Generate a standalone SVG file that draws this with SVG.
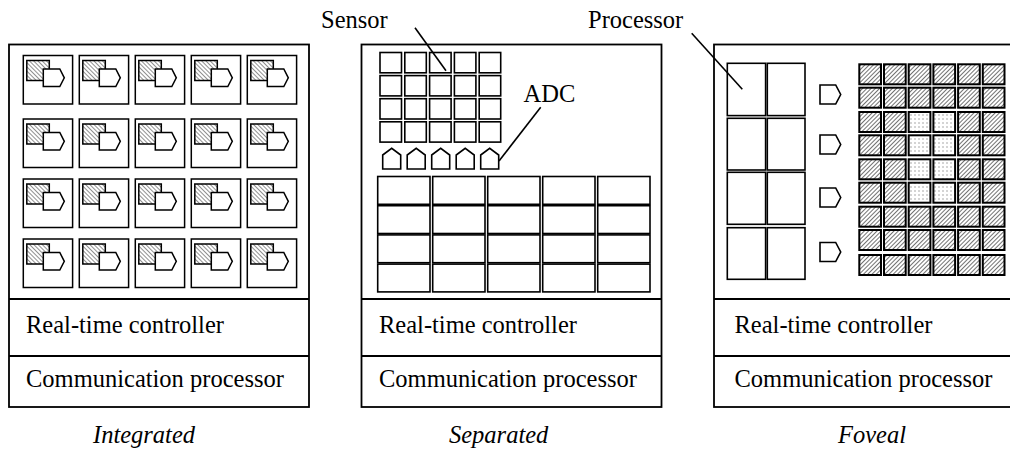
<svg xmlns="http://www.w3.org/2000/svg" width="1010" height="451" viewBox="0 0 1010 451" font-family="Liberation Serif, Times New Roman, serif" font-size="24.5">
<defs>
<pattern id="hatchA" patternUnits="userSpaceOnUse" width="3" height="3" patternTransform="rotate(-45)">
<rect width="3" height="3" fill="#fff"/>
<line x1="0" y1="0" x2="0" y2="3" stroke="#555" stroke-width="1.3"/>
</pattern>
<pattern id="hatchB" patternUnits="userSpaceOnUse" width="3" height="3" patternTransform="rotate(45)">
<rect width="3" height="3" fill="#fff"/>
<line x1="0" y1="0" x2="0" y2="3" stroke="#444" stroke-width="1.5"/>
</pattern>
<pattern id="dots" patternUnits="userSpaceOnUse" x="1" y="1" width="4" height="4">
<rect width="4" height="4" fill="#fff"/>
<rect x="1.5" y="1.5" width="1" height="1" fill="#555"/>
</pattern>
<g id="icell" fill="#fff" stroke="#000" stroke-width="1.5">
<rect x="0" y="0" width="49.3" height="48.5"/>
<rect x="3.5" y="5" width="22.5" height="20" fill="url(#hatchA)"/>
<path d="M20,13.5 H36.5 L41,22.3 L36.5,31 H20 Z"/>
</g>
<path id="adc" d="M-9,169 V155 L0,148.3 L9,155 V169 Z"/>
<path id="rpent" d="M0,0 H15.7 L20.7,9.5 L15.7,19 H0 Z"/>
</defs>
<style>
.frame{fill:none;stroke:#000;stroke-width:1.8}
.s{fill:#fff;stroke:#000;stroke-width:1.6}
.h{fill:url(#hatchB);stroke:#000;stroke-width:2}
.d{fill:url(#dots);stroke:#000;stroke-width:2}
.div{stroke:#000;stroke-width:1.8}
text{fill:#000}
.it{font-style:italic}
.lead{stroke:#000;stroke-width:1.6;fill:none}
</style>

<g id="integrated">
<rect class="frame" x="9" y="44.5" width="300" height="362.5"/>
<line class="div" x1="9" y1="299" x2="309" y2="299"/>
<line class="div" x1="9" y1="356" x2="309" y2="356"/>
<g id="cells1">
<use href="#icell" x="23.3" y="55.5"/><use href="#icell" x="79.3" y="55.5"/><use href="#icell" x="135.3" y="55.5"/><use href="#icell" x="191.3" y="55.5"/><use href="#icell" x="247.3" y="55.5"/>
<use href="#icell" x="23.3" y="119"/><use href="#icell" x="79.3" y="119"/><use href="#icell" x="135.3" y="119"/><use href="#icell" x="191.3" y="119"/><use href="#icell" x="247.3" y="119"/>
<use href="#icell" x="23.3" y="179"/><use href="#icell" x="79.3" y="179"/><use href="#icell" x="135.3" y="179"/><use href="#icell" x="191.3" y="179"/><use href="#icell" x="247.3" y="179"/>
<use href="#icell" x="23.3" y="239"/><use href="#icell" x="79.3" y="239"/><use href="#icell" x="135.3" y="239"/><use href="#icell" x="191.3" y="239"/><use href="#icell" x="247.3" y="239"/>
</g>
<text x="26" y="333">Real-time controller</text>
<text x="26" y="387">Communication processor</text>
<text class="it" x="93" y="443">Integrated</text>
</g>

<g id="separated">
<rect class="frame" x="361.5" y="44.5" width="300" height="362.5"/>
<line class="div" x1="361.5" y1="299" x2="661.5" y2="299"/>
<line class="div" x1="361.5" y1="356" x2="661.5" y2="356"/>
<g id="sensors" class="s">
<rect x="380" y="52.5" width="21.5" height="20.3"/><rect x="404.8" y="52.5" width="21.5" height="20.3"/><rect x="429.6" y="52.5" width="21.5" height="20.3"/><rect x="454.4" y="52.5" width="21.5" height="20.3"/><rect x="479.2" y="52.5" width="21.5" height="20.3"/>
<rect x="380" y="75.6" width="21.5" height="20.3"/><rect x="404.8" y="75.6" width="21.5" height="20.3"/><rect x="429.6" y="75.6" width="21.5" height="20.3"/><rect x="454.4" y="75.6" width="21.5" height="20.3"/><rect x="479.2" y="75.6" width="21.5" height="20.3"/>
<rect x="380" y="98.7" width="21.5" height="20.3"/><rect x="404.8" y="98.7" width="21.5" height="20.3"/><rect x="429.6" y="98.7" width="21.5" height="20.3"/><rect x="454.4" y="98.7" width="21.5" height="20.3"/><rect x="479.2" y="98.7" width="21.5" height="20.3"/>
<rect x="380" y="121.8" width="21.5" height="20.3"/><rect x="404.8" y="121.8" width="21.5" height="20.3"/><rect x="429.6" y="121.8" width="21.5" height="20.3"/><rect x="454.4" y="121.8" width="21.5" height="20.3"/><rect x="479.2" y="121.8" width="21.5" height="20.3"/>
</g>
<g id="adcs" class="s">
<use href="#adc" x="391.7"/><use href="#adc" x="416.2"/><use href="#adc" x="440.7"/><use href="#adc" x="465.2"/><use href="#adc" x="489.7"/>
</g>
<g id="processors2" class="s">
<rect x="377.7" y="176.5" width="52.3" height="27.8"/><rect x="432.7" y="176.5" width="52.3" height="27.8"/><rect x="487.7" y="176.5" width="52.3" height="27.8"/><rect x="542.7" y="176.5" width="52.3" height="27.8"/><rect x="597.7" y="176.5" width="52.3" height="27.8"/>
<rect x="377.7" y="205.7" width="52.3" height="27.8"/><rect x="432.7" y="205.7" width="52.3" height="27.8"/><rect x="487.7" y="205.7" width="52.3" height="27.8"/><rect x="542.7" y="205.7" width="52.3" height="27.8"/><rect x="597.7" y="205.7" width="52.3" height="27.8"/>
<rect x="377.7" y="234.9" width="52.3" height="27.8"/><rect x="432.7" y="234.9" width="52.3" height="27.8"/><rect x="487.7" y="234.9" width="52.3" height="27.8"/><rect x="542.7" y="234.9" width="52.3" height="27.8"/><rect x="597.7" y="234.9" width="52.3" height="27.8"/>
<rect x="377.7" y="264.1" width="52.3" height="27.8"/><rect x="432.7" y="264.1" width="52.3" height="27.8"/><rect x="487.7" y="264.1" width="52.3" height="27.8"/><rect x="542.7" y="264.1" width="52.3" height="27.8"/><rect x="597.7" y="264.1" width="52.3" height="27.8"/>
</g>
<text x="379" y="333">Real-time controller</text>
<text x="379" y="387">Communication processor</text>
<text class="it" x="449" y="443">Separated</text>
</g>

<g id="foveal">
<rect class="frame" x="714" y="44.5" width="302" height="362.5"/>
<line class="div" x1="714" y1="299" x2="1010" y2="299"/>
<line class="div" x1="714" y1="356" x2="1010" y2="356"/>
<g id="processors3" class="s">
<rect x="727.3" y="63.3" width="38.3" height="52.3"/><rect x="767.3" y="63.3" width="37.7" height="52.3"/>
<rect x="727.3" y="118.3" width="38.3" height="51.7"/><rect x="767.3" y="118.3" width="37.7" height="51.7"/>
<rect x="727.3" y="172.3" width="38.3" height="52"/><rect x="767.3" y="172.3" width="37.7" height="52"/>
<rect x="727.3" y="227.7" width="38.3" height="51.6"/><rect x="767.3" y="227.7" width="37.7" height="51.6"/>
</g>
<g id="adcs3" class="s">
<use href="#rpent" x="820" y="85"/><use href="#rpent" x="820" y="135"/><use href="#rpent" x="820" y="188"/><use href="#rpent" x="820" y="242.5"/>
</g>
<g id="sensors3">
<g class="h">
<rect x="859.3" y="64.3" width="21.7" height="20"/><rect x="884" y="64.3" width="21.7" height="20"/><rect x="908.7" y="64.3" width="21.7" height="20"/><rect x="933.4" y="64.3" width="21.7" height="20"/><rect x="958.1" y="64.3" width="21.7" height="20"/><rect x="982.8" y="64.3" width="21.7" height="20"/>
<rect x="859.3" y="87.7" width="21.7" height="20"/><rect x="884" y="87.7" width="21.7" height="20"/><rect x="908.7" y="87.7" width="21.7" height="20"/><rect x="933.4" y="87.7" width="21.7" height="20"/><rect x="958.1" y="87.7" width="21.7" height="20"/><rect x="982.8" y="87.7" width="21.7" height="20"/>
<rect x="859.3" y="112" width="21.7" height="20"/><rect x="884" y="112" width="21.7" height="20"/><rect x="958.1" y="112" width="21.7" height="20"/><rect x="982.8" y="112" width="21.7" height="20"/>
<rect x="859.3" y="135.3" width="21.7" height="20"/><rect x="884" y="135.3" width="21.7" height="20"/><rect x="958.1" y="135.3" width="21.7" height="20"/><rect x="982.8" y="135.3" width="21.7" height="20"/>
<rect x="859.3" y="159.3" width="21.7" height="20"/><rect x="884" y="159.3" width="21.7" height="20"/><rect x="958.1" y="159.3" width="21.7" height="20"/><rect x="982.8" y="159.3" width="21.7" height="20"/>
<rect x="859.3" y="182.7" width="21.7" height="20"/><rect x="884" y="182.7" width="21.7" height="20"/><rect x="958.1" y="182.7" width="21.7" height="20"/><rect x="982.8" y="182.7" width="21.7" height="20"/>
<rect x="859.3" y="206.7" width="21.7" height="20"/><rect x="884" y="206.7" width="21.7" height="20"/><rect x="908.7" y="206.7" width="21.7" height="20"/><rect x="933.4" y="206.7" width="21.7" height="20"/><rect x="958.1" y="206.7" width="21.7" height="20"/><rect x="982.8" y="206.7" width="21.7" height="20"/>
<rect x="859.3" y="230" width="21.7" height="20"/><rect x="884" y="230" width="21.7" height="20"/><rect x="908.7" y="230" width="21.7" height="20"/><rect x="933.4" y="230" width="21.7" height="20"/><rect x="958.1" y="230" width="21.7" height="20"/><rect x="982.8" y="230" width="21.7" height="20"/>
<rect x="859.3" y="255" width="21.7" height="20"/><rect x="884" y="255" width="21.7" height="20"/><rect x="908.7" y="255" width="21.7" height="20"/><rect x="933.4" y="255" width="21.7" height="20"/><rect x="958.1" y="255" width="21.7" height="20"/><rect x="982.8" y="255" width="21.7" height="20"/>
</g>
<g class="d">
<rect x="908.7" y="112" width="21.7" height="20"/><rect x="933.4" y="112" width="21.7" height="20"/>
<rect x="908.7" y="135.3" width="21.7" height="20"/><rect x="933.4" y="135.3" width="21.7" height="20"/>
<rect x="908.7" y="159.3" width="21.7" height="20"/><rect x="933.4" y="159.3" width="21.7" height="20"/>
<rect x="908.7" y="182.7" width="21.7" height="20"/><rect x="933.4" y="182.7" width="21.7" height="20"/>
</g>
</g>
<text x="734.5" y="333">Real-time controller</text>
<text x="734.5" y="387">Communication processor</text>
<text class="it" x="838" y="443">Foveal</text>
</g>

<g id="labels">
<text x="321" y="28">Sensor</text>
<text x="523.5" y="102">ADC</text>
<text x="588" y="28">Processor</text>
</g>

<g id="connectors">
<line class="lead" x1="415" y1="27.7" x2="446" y2="70.7"/>
<line class="lead" x1="540.7" y1="107.3" x2="499" y2="161"/>
<line class="lead" x1="691.7" y1="33.3" x2="742.3" y2="89.3"/>
</g>
</svg>
